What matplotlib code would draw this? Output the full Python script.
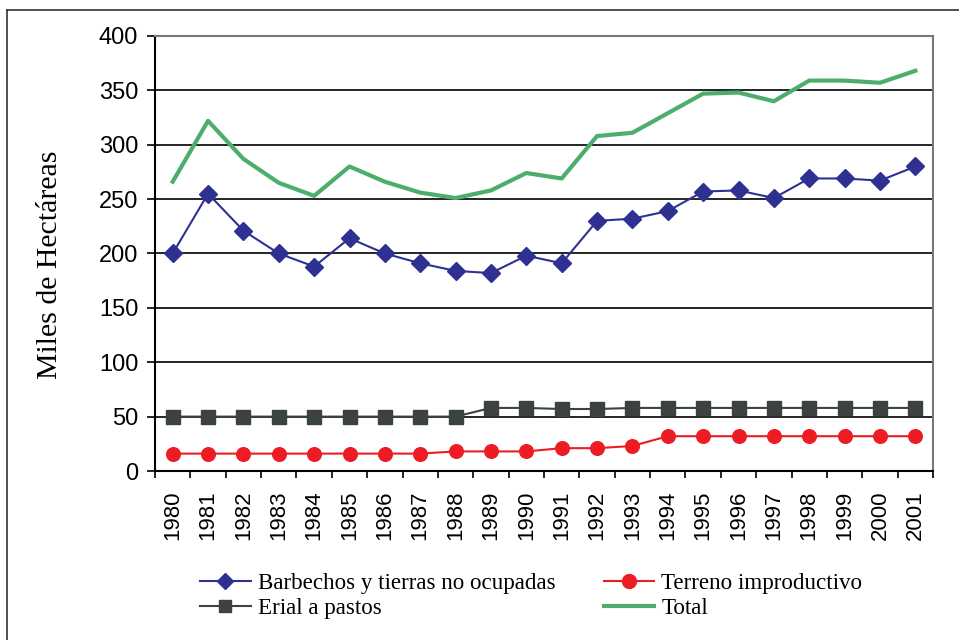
import matplotlib
matplotlib.use("Agg")
import matplotlib.pyplot as plt
from matplotlib.lines import Line2D

years = [str(y) for y in range(1980, 2002)]
barbechos = [200, 255, 221, 200, 188, 214, 200, 191, 184, 182, 198, 191,
             230, 232, 239, 257, 258, 251, 269, 269, 267, 280]
erial = [50, 50, 50, 50, 50, 50, 50, 50, 50, 58, 58, 57,
         57, 58, 58, 58, 58, 58, 58, 58, 58, 58]
terreno = [16, 16, 16, 16, 16, 16, 16, 16, 18, 18, 18, 21,
           21, 23, 32, 32, 32, 32, 32, 32, 32, 32]
total = [266, 322, 287, 265, 253, 280, 266, 256, 251, 258, 274, 269,
         308, 311, 329, 347, 348, 340, 359, 359, 357, 368]
yticks = [0, 50, 100, 150, 200, 250, 300, 350, 400]

W, H = 959, 640
fig = plt.figure(figsize=(W / 100, H / 100), dpi=100)
ax = fig.add_axes([155 / W, 1 - 471 / H, (933 - 155) / W, (471 - 36) / H])

x = list(range(len(years)))
c_bar = "#2E3192"
c_ter = "#ED1C24"
c_eri = "#3C4242"
c_tot = "#4DAE6C"

ax.plot(x, total, color=c_tot, lw=3.0, zorder=3)
ax.plot(x, barbechos, color=c_bar, lw=1.5, marker="D", ms=9, zorder=4)
ax.plot(x, erial, color=c_eri, lw=1.5, marker="s", ms=9.5, zorder=4)
ax.plot(x, terreno, color=c_ter, lw=1.5, marker="o", ms=9.8, zorder=4)

ax.set_xlim(-0.5, len(years) - 0.5)
ax.set_ylim(0, 400)
ax.set_yticks(yticks)
ax.set_yticklabels([str(v) for v in yticks], fontsize=17, family="Liberation Sans")
ax.yaxis.grid(True, color="black", lw=1.2)
ax.set_axisbelow(True)

ax.set_xticks(x)
ax.set_xticklabels(years, rotation=90, fontsize=16, family="Liberation Sans")
ax.set_xticks([i - 0.5 for i in range(len(years) + 1)], minor=True)
ax.tick_params(axis="x", which="major", length=0, pad=14)
ax.tick_params(axis="x", which="minor", length=5, width=1.2, direction="out")
ax.tick_params(axis="y", length=6, width=1.2, direction="out", pad=6)

for side in ["left", "bottom"]:
    ax.spines[side].set_color("black")
    ax.spines[side].set_linewidth(1.5)
for side in ["right", "top"]:
    ax.spines[side].set_color("#777777")
    ax.spines[side].set_linewidth(1.5)

fig.text(50 / W, 1 - 265 / H, "Miles de Hectáreas", family="Liberation Serif",
         fontsize=21.5, rotation=90, ha="center", va="center")

handles = [
    Line2D([], [], color=c_bar, lw=1.5, marker="D", ms=8),
    Line2D([], [], color=c_eri, lw=1.5, marker="s", ms=9),
    Line2D([], [], color=c_ter, lw=1.5, marker="o", ms=10),
    Line2D([], [], color=c_tot, lw=3.0),
]
labels = ["Barbechos y tierras no ocupadas", "Erial a pastos",
          "Terreno improductivo", "Total"]
fig.legend(handles, labels, ncol=2, loc="upper left",
           bbox_to_anchor=(200 / W, 1 - 573 / H), frameon=False,
           prop={"family": "Liberation Serif", "size": 16.6},
           handlelength=2.2, handletextpad=0.3, columnspacing=2.1,
           labelspacing=0.15, borderaxespad=0, borderpad=0)

fig.add_artist(Line2D([7 / W, 7 / W], [0, 1 - 10 / H], transform=fig.transFigure,
                      color="#333333", lw=1.2))
fig.add_artist(Line2D([7 / W, 1], [1 - 10 / H, 1 - 10 / H], transform=fig.transFigure,
                      color="#333333", lw=1.2))

fig.savefig("out.png", dpi=100)
